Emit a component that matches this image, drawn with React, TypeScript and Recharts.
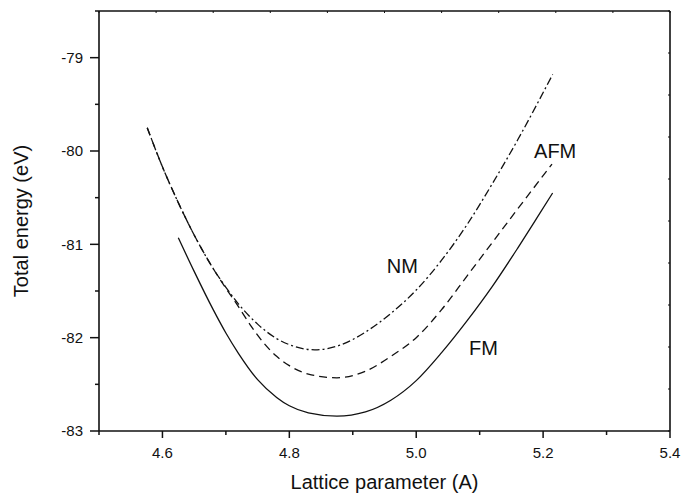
import { LineChart, Line, XAxis, YAxis, ReferenceDot } from 'recharts';

const FONT = '"Liberation Sans", Arial, sans-serif';

// values
const nmX = [4.576, 4.6, 4.62, 4.65, 4.68, 4.7, 4.72, 4.75, 4.78, 4.8, 4.84, 4.88, 4.92, 4.96, 5.0, 5.04, 5.08, 5.12, 5.16, 5.215];
const nmY = [-79.75, -80.17, -80.48, -80.9, -81.26, -81.46, -81.64, -81.855, -82.01, -82.075, -82.13, -82.08, -81.94, -81.74, -81.49, -81.17, -80.79, -80.35, -79.88, -79.18];

const afmX = [4.576, 4.6, 4.62, 4.65, 4.68, 4.7, 4.72, 4.74, 4.76, 4.78, 4.8, 4.83, 4.875, 4.92, 4.96, 5.0, 5.04, 5.08, 5.12, 5.16, 5.214];
const afmY = [-79.75, -80.17, -80.48, -80.9, -81.26, -81.47, -81.67, -81.88, -82.06, -82.2, -82.3, -82.39, -82.43, -82.36, -82.2, -82.0, -81.7, -81.34, -80.98, -80.62, -80.14];

const fmX = [4.625, 4.65, 4.68, 4.7, 4.72, 4.75, 4.78, 4.8, 4.83, 4.875, 4.92, 4.96, 5.0, 5.04, 5.08, 5.12, 5.16, 5.19, 5.215];
const fmY = [-80.93, -81.29, -81.7, -81.95, -82.17, -82.45, -82.64, -82.73, -82.805, -82.84, -82.795, -82.67, -82.46, -82.16, -81.82, -81.45, -81.04, -80.72, -80.45];

const xTicks = [4.5, 4.6, 4.7, 4.8, 4.9, 5.0, 5.1, 5.2, 5.3, 5.4];
const xMajor = [4.6, 4.8, 5.0, 5.2, 5.4];
const yTicks = [-83, -82.5, -82, -81.5, -81, -80.5, -80, -79.5, -79, -78.5];
const yMajor = [-83, -82, -81, -80, -79];
const topTicks = [4.5, 4.59, 4.68, 4.77, 4.86, 4.95, 5.04, 5.13, 5.22, 5.31, 5.4];
const rightTicks = [-83, -82.55, -82.1, -81.65, -81.2, -80.75, -80.3, -79.85, -79.4, -78.95, -78.5];

const toPoints = (xs: number[], ys: number[]) => xs.map((x, i) => ({ x, y: ys[i] }));
const nm = toPoints(nmX, nmY);
const afm = toPoints(afmX, afmY);
const fm = toPoints(fmX, fmY);

const isMajor = (list: number[], v: number) => list.some(m => Math.abs(m - v) < 1e-6);

function BottomTick({ x, y, payload }: any) {
  const major = isMajor(xMajor, payload.value);
  return (
    <g>
      <line x1={x} x2={x} y1={y} y2={y + (major ? 7 : 4)} stroke="#111" strokeWidth={1.5} />
      {major && (
        <text x={x} y={y + 27} textAnchor="middle" fontSize={15} fontFamily={FONT} fill="#111">
          {payload.value.toFixed(1)}
        </text>
      )}
    </g>
  );
}

function LeftTick({ x, y, payload }: any) {
  const major = isMajor(yMajor, payload.value);
  return (
    <g>
      <line x1={x} x2={x - (major ? 9 : 4)} y1={y} y2={y} stroke="#111" strokeWidth={1.5} />
      {major && (
        <text x={x - 16} y={y + 5.3} textAnchor="end" fontSize={15} fontFamily={FONT} fill="#111">
          {payload.value}
        </text>
      )}
    </g>
  );
}

function TopTick({ x, y }: any) {
  return <line x1={x} x2={x} y1={y} y2={y + 2} stroke="#111" strokeWidth={1} />;
}

function RightTick({ x, y }: any) {
  return <line x1={x} x2={x - 2} y1={y} y2={y} stroke="#111" strokeWidth={1} />;
}

const axisLine = { stroke: '#111', strokeWidth: 1.6 };
const labelText = { fontSize: 20, fontFamily: FONT, fill: '#111' };

export default function App() {
  return (
    <div style={{ position: 'absolute', left: 0, top: 0, width: 683, height: 495, background: '#fff' }}>
      <LineChart width={683} height={495} margin={{ top: 10, right: 12, bottom: 0, left: 0 }}>
        <XAxis
          xAxisId="b"
          type="number"
          dataKey="x"
          domain={[4.5, 5.4]}
          ticks={xTicks}
          interval={0}
          allowDataOverflow
          height={64}
          tickSize={0}
          tickMargin={0}
          tickLine={false}
          tick={<BottomTick />}
          axisLine={axisLine}
          label={{ value: 'Lattice parameter (A)', position: 'insideBottom', offset: 6, style: labelText }}
        />
        <XAxis
          xAxisId="t"
          orientation="top"
          type="number"
          dataKey="x"
          domain={[4.5, 5.4]}
          ticks={topTicks}
          interval={0}
          allowDataOverflow
          height={1}
          tickSize={0}
          tickMargin={0}
          tickLine={false}
          tick={<TopTick />}
          axisLine={axisLine}
        />
        <YAxis
          yAxisId="l"
          type="number"
          domain={[-83, -78.5]}
          ticks={yTicks}
          interval={0}
          allowDataOverflow
          width={99}
          tickSize={0}
          tickMargin={0}
          tickLine={false}
          tick={<LeftTick />}
          axisLine={axisLine}
          label={{ value: 'Total energy (eV)', angle: -90, position: 'insideLeft', offset: 21, style: { ...labelText, textAnchor: 'middle' } }}
        />
        <YAxis
          yAxisId="r"
          orientation="right"
          type="number"
          domain={[-83, -78.5]}
          ticks={rightTicks}
          interval={0}
          allowDataOverflow
          width={1}
          tickSize={0}
          tickMargin={0}
          tickLine={false}
          tick={<RightTick />}
          axisLine={axisLine}
        />
        {/* invisible series bound to the top/right frame axes */}
        <Line xAxisId="t" yAxisId="r" data={fm} dataKey="y" stroke="none" dot={false} activeDot={false} isAnimationActive={false} />
        <Line xAxisId="b" yAxisId="l" data={fm} dataKey="y" type="monotone" stroke="#111" strokeWidth={1.3} dot={false} activeDot={false} isAnimationActive={false} />
        <Line xAxisId="b" yAxisId="l" data={afm} dataKey="y" type="monotone" stroke="#111" strokeWidth={1.3} strokeDasharray="8 5" dot={false} activeDot={false} isAnimationActive={false} />
        <Line xAxisId="b" yAxisId="l" data={nm} dataKey="y" type="monotone" stroke="#111" strokeWidth={1.3} strokeDasharray="8 3 2 3" dot={false} activeDot={false} isAnimationActive={false} />
        <ReferenceDot xAxisId="b" yAxisId="l" x={4.978} y={-81.235} r={0} fill="none" stroke="none" label={{ value: 'NM', position: 'center', style: labelText }} />
        <ReferenceDot xAxisId="b" yAxisId="l" x={5.219} y={-80.0} r={0} fill="none" stroke="none" label={{ value: 'AFM', position: 'center', style: labelText }} />
        <ReferenceDot xAxisId="b" yAxisId="l" x={5.106} y={-82.107} r={0} fill="none" stroke="none" label={{ value: 'FM', position: 'center', style: labelText }} />
      </LineChart>
    </div>
  );
}
